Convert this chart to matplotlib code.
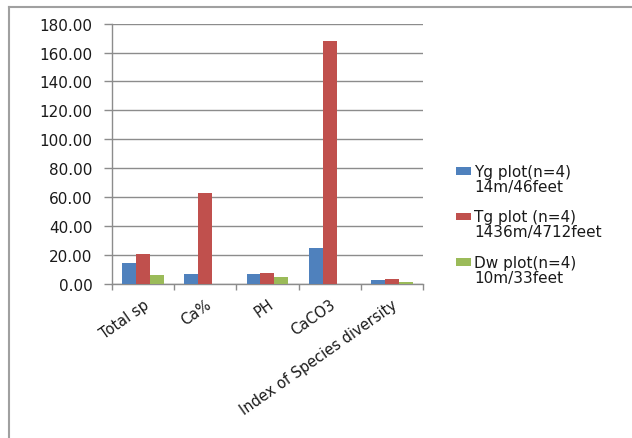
"""Soil and species measurements for three altitude plots, as grouped bars."""

import matplotlib.pyplot as plt
import numpy as np
from matplotlib.container import BarContainer
from matplotlib.legend_handler import HandlerPatch, update_from_first_child
from matplotlib.lines import Line2D
from matplotlib.patches import Rectangle

categories = ["Total sp", "Ca%", "PH", "CaCO3", "Index of Species diversity"]
yg_values = [14.5, 6.7, 6.7, 24.9, 2.8]
tg_values = [20.7, 62.7, 7.6, 167.7, 3.5]
dw_values = [6.0, 0.0, 5.1, 0.0, 1.2]
series_labels = [
    "Yg plot(n=4)\n14m/46feet",
    "Tg plot (n=4)\n1436m/4712feet",
    "Dw plot(n=4)\n10m/33feet",
]
y_ticks = [0, 20, 40, 60, 80, 100, 120, 140, 160, 180]

colors = ["#4F81BD", "#C0504D", "#9BBB59"]
text_color = "#1a1a1a"
grid_color = "#8c8c8c"

plt.rcParams["font.family"] = ["DejaVu Sans"]


def raised_patch(legend, orig_handle, xdescent, ydescent, width, height, fontsize):
    # line the swatch up with the first line of a two-line label
    return Rectangle((-xdescent, -ydescent + 0.55 * fontsize), width, height)


fig = plt.figure(figsize=(6.32, 4.39), dpi=100)
ax = fig.add_axes([0.1772, 0.351, 0.492, 0.593])

x = np.arange(len(categories))
width = 0.224
for i, (vals, color, label) in enumerate(zip([yg_values, tg_values, dw_values], colors, series_labels)):
    ax.bar(x + (i - 1) * width, vals, width, color=color, label=label, zorder=3)

ax.set_xlim(-0.5, len(categories) - 0.5)
ax.set_ylim(0, 180)
ax.set_yticks(y_ticks)
ax.set_yticklabels([f"{v:.2f}" for v in y_ticks])
ax.yaxis.grid(True, color=grid_color, linewidth=1.0, zorder=0)

# category labels on major ticks, tick marks at group boundaries
ax.set_xticks(x)
ax.set_xticklabels(categories, rotation=35, ha="right", rotation_mode="anchor")
ax.set_xticks(np.arange(-0.5, len(categories), 1.0), minor=True)
ax.tick_params(axis="x", which="major", length=0, pad=9, labelsize=10.5, colors=text_color)
ax.tick_params(axis="x", which="minor", length=4.5, width=1.0, color=grid_color, direction="out")
ax.tick_params(axis="y", length=6, width=1.0, color=grid_color, pad=8, labelsize=11, labelcolor=text_color)

for side in ["top", "right"]:
    ax.spines[side].set_visible(False)
for side in ["left", "bottom"]:
    ax.spines[side].set_color(grid_color)
    ax.spines[side].set_linewidth(1.0)

leg = fig.legend(
    loc="upper left",
    bbox_to_anchor=(0.700, 0.655),
    frameon=False,
    fontsize=11,
    labelcolor=text_color,
    handlelength=1.0,
    handleheight=0.4,
    handletextpad=0.2,
    labelspacing=1.0,
    handler_map={BarContainer: HandlerPatch(patch_func=raised_patch, update_func=update_from_first_child)},
)
for t in leg.get_texts():
    t.set_linespacing(1.0)

# outer chart frame along the top and left edges
frame_color = "#a0a0a0"
fig.add_artist(Line2D([9 / 632, 1.0], [1 - 8 / 439, 1 - 8 / 439], color=frame_color, linewidth=1.5, transform=fig.transFigure))
fig.add_artist(Line2D([9 / 632, 9 / 632], [0.0, 1 - 8 / 439], color=frame_color, linewidth=1.5, transform=fig.transFigure))

fig.savefig("out.png", dpi=100, facecolor="white")
